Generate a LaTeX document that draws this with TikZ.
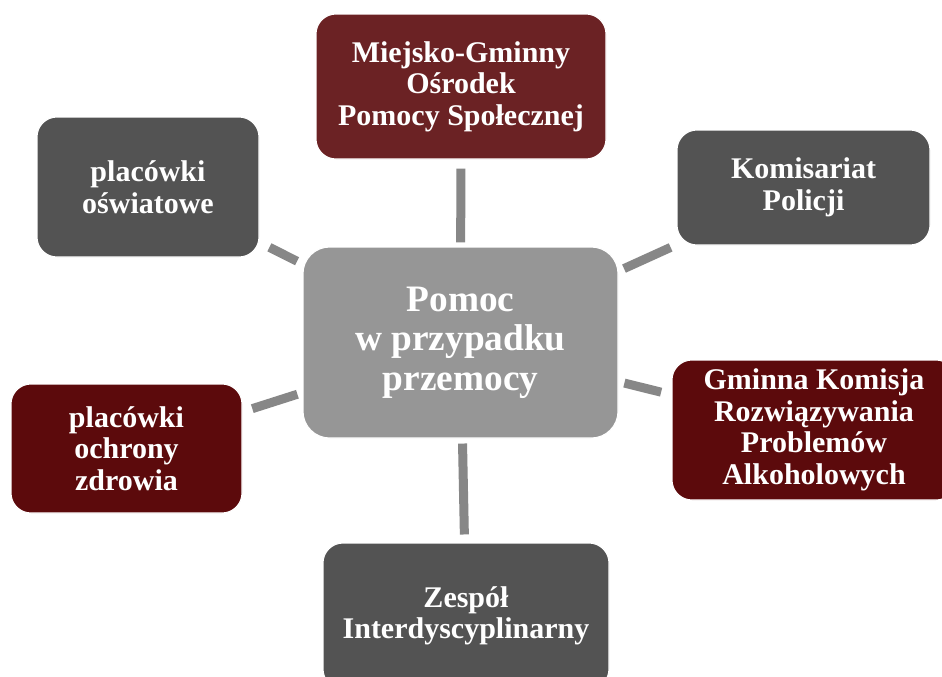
\documentclass[tikz,border=0pt]{standalone}
\usepackage{fontspec}
\setmainfont{Liberation Serif}
\definecolor{maroonA}{HTML}{6B2224}
\definecolor{maroonB}{HTML}{5C0A0C}
\definecolor{darkbox}{HTML}{535353}
\definecolor{centerbox}{HTML}{969696}
\definecolor{spokecol}{HTML}{878787}
\tikzset{
  box/.style={rectangle, rounded corners=15pt, draw=white, line width=0.8pt,
    text=white, align=center, inner sep=0pt,
    font=\bfseries\fontsize{22.5}{23.6}\selectfont},
  hub/.style={box, fill=centerbox, rounded corners=20pt,
    font=\bfseries\fontsize{28}{29.6}\selectfont},
  spoke/.style={draw=spokecol, line width=6.75pt}
}
\begin{document}
\begin{tikzpicture}[x=0.75pt,y=-0.75pt]
\useasboundingbox (0,0) rectangle (942,676);
\fill[white] (0,0) rectangle (942,676);
\clip (0,0) rectangle (942,676);

\node[hub, minimum width=236.25pt, minimum height=143.25pt] (c) at (460.5,342.5)
  {Pomoc\\w przypadku\\przemocy};
\node[box, fill=maroonA, minimum width=217.5pt, minimum height=108.75pt] (mg) at (461,86.5)
  {Miejsko-Gminny\\Ośrodek\\Pomocy Społecznej};
\node[box, fill=darkbox, minimum width=166.5pt, minimum height=105pt] (po) at (148,187)
  {placówki\\oświatowe};
\node[box, fill=darkbox, minimum width=189.75pt, minimum height=86.25pt] (kp) at (803.5,187.5)
  {Komisariat\\Policji};
\node[box, fill=maroonB, minimum width=213pt, minimum height=105pt] (gk) at (814,430)
  {Gminna Komisja\\Rozwiązywania\\Problemów\\Alkoholowych};
\node[box, fill=maroonB, minimum width=173.25pt, minimum height=96.75pt] (oz) at (126.5,448.5)
  {placówki\\ochrony\\zdrowia};
\node[box, fill=darkbox, minimum width=214.5pt, minimum height=109.5pt] (zi) at (466,616)
  {Zespół\\Interdyscyplinarny};

\draw[spoke, shorten <=3pt, shorten >=6.75pt] (c) -- (mg);
\draw[spoke, shorten <=3.75pt, shorten >=6pt] (c) -- (zi);
\draw[spoke, shorten <=4.5pt, shorten >=8.25pt] (c) -- (po);
\draw[spoke, shorten <=4.5pt, shorten >=4.8pt] (c) -- (kp);
\draw[spoke, shorten <=4.5pt, shorten >=8pt] (c) -- (gk);
\draw[spoke, shorten <=4pt, shorten >=7.7pt] (c) -- (oz);
\end{tikzpicture}
\end{document}
